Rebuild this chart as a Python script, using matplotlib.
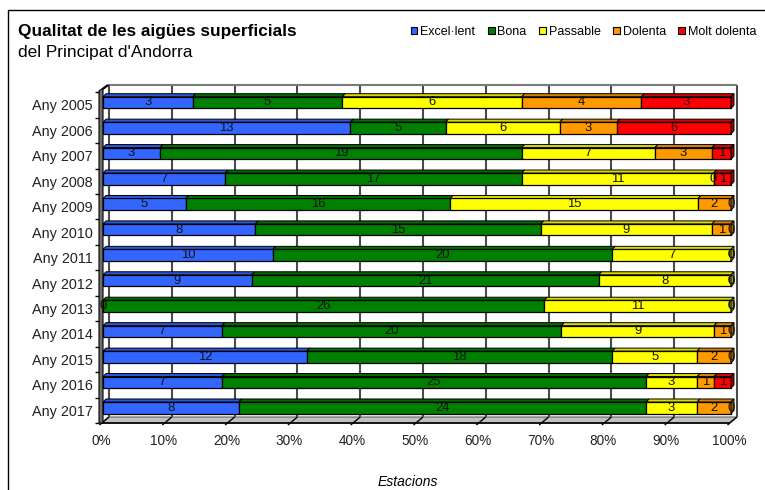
import matplotlib
matplotlib.use("Agg")
import matplotlib.pyplot as plt
from matplotlib.patches import Polygon, Patch, Rectangle
from matplotlib.colors import to_rgb
import numpy as np

plt.rcParams['font.family'] = ['Liberation Sans', 'DejaVu Sans']

# --- data -------------------------------------------------------------
years = ['Any 2005', 'Any 2006', 'Any 2007', 'Any 2008', 'Any 2009', 'Any 2010',
         'Any 2011', 'Any 2012', 'Any 2013', 'Any 2014', 'Any 2015', 'Any 2016',
         'Any 2017']
classes = ['Excel·lent', 'Bona', 'Passable', 'Dolenta', 'Molt dolenta']
excellent = [3, 13, 3, 7, 5, 8, 10, 9, 0, 7, 12, 7, 8]
bona = [5, 5, 19, 17, 16, 15, 20, 21, 26, 20, 18, 25, 24]
passable = [6, 6, 7, 11, 15, 9, 7, 8, 11, 9, 5, 3, 3]
dolenta = [4, 3, 3, 0, 2, 1, 0, 0, 0, 1, 2, 1, 2]
molt_dolenta = [3, 6, 1, 1, 0, 0, 0, 0, 0, 0, 0, 1, 0]
colors = ['#3366ff', '#008000', '#ffff00', '#ff9900', '#ff0000']
xticks = list(range(0, 101, 10))
xticklabels = [f'{t}%' for t in xticks]

series = np.array([excellent, bona, passable, dolenta, molt_dolenta], dtype=float)
totals = series.sum(axis=0)
pct = series / totals * 100

# --- figure / axes geometry ------------------------------------------
W, H = 765, 490
fig = plt.figure(figsize=(W / 100, H / 100), dpi=100)

def fx(px):
    return px / W

def fy(py):
    return 1 - py / H

x0_px, x1_px, ytop_px, ybot_px = 101, 729, 91, 423
ax = fig.add_axes([fx(x0_px), fy(ybot_px), (x1_px - x0_px) / W, (ybot_px - ytop_px) / H])
YTOP, YBOT = -0.55, 12.5
ax.set_xlim(0, 100)
ax.set_ylim(YBOT, YTOP)
for s in ax.spines.values():
    s.set_visible(False)
ax.patch.set_alpha(0)

# pixel -> data conversion factors
PX = 100 / (x1_px - x0_px)
PY = (YBOT - YTOP) / (ybot_px - ytop_px)

# depth of the walls (back wall shifted right/up)
wdx, wdy = 8 * PX, 6 * PY
# bars sit slightly inside the depth, and have their own depth
bdx, bdy = 2 * PX, 2.5 * PY
ddx, ddy = 3 * PX, 3 * PY

def shade(c, f):
    r, g, b = to_rgb(c)
    return (r * f, g * f, b * f)

def add_poly(pts, **kw):
    p = Polygon(pts, closed=True, **kw)
    p.set_clip_on(False)
    ax.add_patch(p)
    return p

# back wall gridlines and top edge
ax.vlines([t + wdx for t in xticks], YBOT - wdy, YTOP - wdy, color='#4a4a4a', lw=1.5,
          zorder=1, clip_on=False)
ax.hlines(YTOP - wdy, wdx, 100 + wdx, color='#7a7a7a', lw=1.5, zorder=1, clip_on=False)

# floor
add_poly([(0, YBOT), (100, YBOT), (100 + wdx, YBOT - wdy), (wdx, YBOT - wdy)],
         facecolor='#c0c0c0', edgecolor='#606060', lw=0.8, zorder=2)
for t in xticks:
    ax.plot([t - 1.5 * PX, t + wdx], [YBOT + 2 * PY, YBOT - wdy], color='black', lw=1,
            zorder=2.5, solid_capstyle='butt', clip_on=False)
ax.hlines(YBOT, 0, 100, color='black', lw=1.2, zorder=2.6, clip_on=False)

# left side wall
add_poly([(-2 * PX, YBOT), (-2 * PX, YTOP), (6 * PX, YTOP - 6 * PY), (8 * PX, YTOP - 6 * PY),
          (2 * PX, YTOP - 1.5 * PY), (2 * PX, YBOT)],
         facecolor='#6e6e6e', edgecolor='black', lw=0.8, zorder=3)
ax.hlines(np.arange(-0.5, 13, 1.0), -6 * PX, -2 * PX, color='black', lw=1, zorder=3,
          clip_on=False)

# bars
ypos = np.arange(len(years))
bar_h = 11.6 * PY
lefts = np.zeros(len(years))
for k, (name, col) in enumerate(zip(classes, colors)):
    bars = ax.barh(ypos - bdy, pct[k], left=lefts + bdx, height=bar_h, color=col,
                   edgecolor='black', lw=0.9, zorder=4, label=name)
    for b in bars:
        b.set_clip_on(False)
    for i in range(len(years)):
        l = lefts[i] + bdx
        r = l + pct[k, i]
        yt = ypos[i] - bdy - bar_h / 2
        if pct[k, i] > 0:
            add_poly([(l, yt), (r, yt), (r + ddx, yt - ddy), (l + ddx, yt - ddy)],
                     facecolor=shade(col, 0.85), edgecolor='black', lw=0.7, zorder=5)
        ax.text((l + r) / 2, ypos[i] - bdy, f'{int(series[k, i])}', ha='center', va='center',
                fontsize=9.4, color='#111111', zorder=7)
    lefts = lefts + pct[k]

# right-hand side faces of the bars
for i in range(len(years)):
    last = max(k for k in range(len(classes)) if series[k, i] > 0)
    r = 100 + bdx
    yt = ypos[i] - bdy - bar_h / 2
    yb = ypos[i] - bdy + bar_h / 2
    add_poly([(r, yt), (r + ddx, yt - ddy), (r + ddx, yb - ddy), (r, yb)],
             facecolor=shade(colors[last], 0.6), edgecolor='black', lw=0.7, zorder=5)

# axes ticks and labels
ax.set_xticks(xticks)
ax.set_xticklabels(xticklabels, fontsize=9.8, color='#222222')
ax.set_yticks(ypos)
ax.set_yticklabels(years, fontsize=10.4, color='#222222')
ax.tick_params(axis='x', length=0, pad=8)
ax.tick_params(axis='y', length=0, pad=6)

# titles
fig.text(fx(18), fy(36), 'Qualitat de les aigües superficials', fontsize=12.4,
         fontweight='bold', va='baseline', ha='left')
fig.text(fx(18), fy(56.5), "del Principat d'Andorra", fontsize=12.4, va='baseline', ha='left')
fig.text(fx(408), fy(482), 'Estacions', fontsize=10, style='italic', ha='center', va='center')

# legend
handles = [Patch(facecolor=c, edgecolor='black', lw=0.8) for c in colors]
fig.legend(handles, classes, loc='center left', bbox_to_anchor=(fx(410.5), fy(31.7)),
           ncol=5, frameon=False, fontsize=9.0, handlelength=0.55, handleheight=0.55,
           handletextpad=0.22, columnspacing=1.0, borderpad=0, borderaxespad=0)

# outer chart frame
fig.add_artist(Rectangle((fx(8), -0.1), 1.2, fy(10) + 0.1, transform=fig.transFigure,
                         fill=False, edgecolor='black', lw=1))

fig.savefig('out.png', dpi=100)
